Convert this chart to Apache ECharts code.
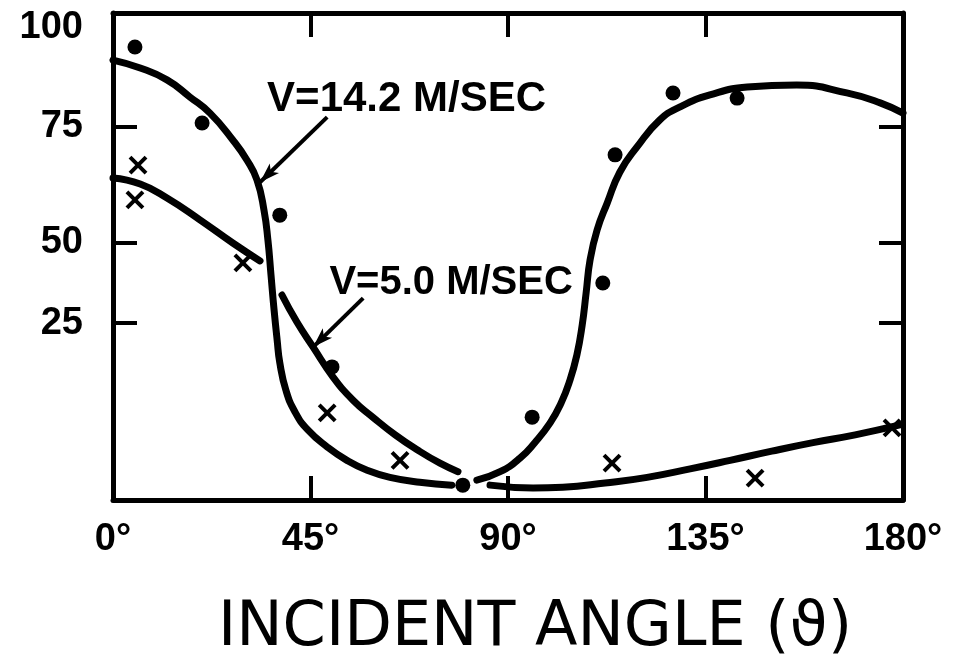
<!DOCTYPE html>
<html>
<head>
<meta charset="utf-8">
<title>Incident angle</title>
<script src="https://cdn.jsdelivr.net/npm/echarts@6/dist/echarts.min.js"></script>
<style>
  html, body { margin: 0; padding: 0; background: #fff; }
  #chart { width: 956px; height: 656px; }
</style>
</head>
<body>
<div id="chart"></div>
<script>
// Tick labels
const angleTicks = [0, 45, 90, 135, 180];
const valueTicks = [25, 50, 75, 100];
const valueTickMarks = [25, 50, 75];

// Measured points, V = 14.2 m/s (dots): [angle, value]
const fastPoints = [
  [5.0, 95.2], [20.3, 76.0], [38.0, 56.0], [49.9, 18.8], [79.7, 2.1],
  [95.5, 11.7], [111.6, 37.5], [114.4, 69.0], [127.6, 83.6], [142.2, 82.3]
];
// Measured points, V = 5.0 m/s (crosses)
const slowPoints = [
  [5.7, 66.8], [5.0, 59.3], [29.6, 43.8], [48.8, 12.3], [65.4, 5.6],
  [113.7, 5.2], [146.3, 3.1], [177.5, 10.2]
];

// Fitted curve, V = 14.2 m/s, drawn in two pieces around the minimum
const fastCurveLeft = [
  [0, 91.9], [6.2, 89.9], [12.3, 86.9], [17.5, 82.6], [22.1, 78.5], [27.3, 72.2],
  [30.5, 67.9], [32.8, 63.6], [34.4, 57.1], [35.3, 50.6], [36.0, 40.0], [36.7, 29.1],
  [37.4, 22.6], [38.0, 19.4], [39.4, 15.5], [41.5, 12.4], [44.4, 9.9], [48.8, 7.5],
  [53.3, 5.6], [57.9, 4.2], [63.1, 3.2], [69.9, 2.5], [77.2, 2.1]
];
const fastCurveRight = [
  [82.9, 2.8], [88.2, 4.0], [92.7, 5.9], [96.1, 8.1], [99.6, 10.9], [102.1, 13.7],
  [104.1, 16.9], [105.7, 20.5], [106.9, 24.7], [107.8, 34.4], [108.7, 44.7],
  [110.3, 52.8], [112.6, 58.6], [115.5, 65.3], [119.4, 70.7], [124.6, 76.8],
  [129.2, 80.1], [136.0, 83.1], [144.5, 85.1], [155.8, 85.6], [167.2, 83.6],
  [174.8, 81.1], [180, 78.5]
];

// Fitted curve, V = 5.0 m/s, drawn in three pieces
const slowCurveA = [[0, 64.0], [6.2, 62.7], [12.3, 59.7], [19.8, 55.0], [27.3, 50.0], [33.5, 44.4]];
const slowCurveB = [
  [38.5, 33.75], [41.9, 25.3], [45.6, 21.6], [50.1, 17.4], [54.7, 14.1], [59.2, 11.7],
  [64.3, 9.2], [69.3, 7.1], [74.5, 5.2], [78.6, 4.0]
];
const slowCurveC = [
  [85.9, 2.1], [95.7, 1.7], [102.5, 1.8], [112.1, 2.4], [121.7, 3.2], [131.5, 4.4],
  [140.6, 5.6], [150.1, 6.9], [159.5, 8.1], [169.1, 9.2], [179.3, 10.6]
];

// Curve labels with their pointer arrows: [angle, value]
const fastLabel = { text: 'V=14.2 M/SEC', at: [35.0, 82.0], arrowFrom: [48.8, 77.5], arrowTo: [33.5, 63.1] };
const slowLabel = { text: 'V=5.0 M/SEC', at: [49.2, 37.5], arrowFrom: [57.0, 32.8], arrowTo: [45.6, 21.6] };

// The printed value scale is not linear: each printed value sits at a
// given share of the plot height, and values in between are interpolated.
const scaleValues = [0, 25, 50, 75, 100, 103.8];
const scaleShares = [0, 0.3634, 0.5277, 0.7659, 0.9692, 1];
const AXIS_SPAN = 1000;

function toAxis(v) {
  for (let i = 1; i < scaleValues.length; i++) {
    if (v <= scaleValues[i] || i === scaleValues.length - 1) {
      const t = (v - scaleValues[i - 1]) / (scaleValues[i] - scaleValues[i - 1]);
      return (scaleShares[i - 1] + t * (scaleShares[i] - scaleShares[i - 1])) * AXIS_SPAN;
    }
  }
  return 0;
}
const pt = p => [p[0], toAxis(p[1])];
const valueLabel = pos => {
  const i = valueTicks.findIndex(t => Math.abs(toAxis(t) - pos) < 1e-6);
  return i >= 0 ? String(valueTicks[i]) : '';
};

const INK = '#000';
const numFont = { fontFamily: 'Liberation Sans', fontWeight: 'bold', color: INK };

function curve(data) {
  return {
    type: 'line', data: data.map(pt), smooth: 0.5, showSymbol: false, silent: true,
    lineStyle: { color: INK, width: 7, cap: 'round', join: 'round' }, z: 3
  };
}

function callout(lbl, fontSize) {
  return {
    type: 'line', data: [], silent: true,
    markLine: {
      silent: true, symbol: ['none', 'arrow'], symbolSize: [10, 20],
      itemStyle: { color: INK },
      lineStyle: { color: INK, width: 4, type: 'solid' }, label: { show: false },
      data: [[{ coord: pt(lbl.arrowFrom) }, { coord: pt(lbl.arrowTo) }]]
    },
    markPoint: {
      silent: true, symbol: 'circle', symbolSize: 1, itemStyle: { color: 'transparent' },
      label: { show: true, position: 'right', distance: 0, formatter: lbl.text,
        fontSize: fontSize, ...numFont },
      data: [{ coord: pt(lbl.at) }]
    }
  };
}

const frameLine = { show: true, onZero: false, lineStyle: { color: INK, width: 5 } };
const tickStyle = { color: INK, width: 4 };

const chart = echarts.init(document.getElementById('chart'));
chart.setOption({
  backgroundColor: '#fff',
  animation: false,
  grid: { left: 113, right: 53, top: 13, bottom: 156, outerBoundsMode: 'none', containLabel: false },
  xAxis: [
    {
      type: 'value', min: 0, max: 180, interval: 45, position: 'bottom',
      axisLine: frameLine,
      axisTick: { show: true, inside: true, length: 24, lineStyle: tickStyle,
        customValues: angleTicks.slice(1, -1) },
      axisLabel: { customValues: angleTicks, formatter: v => v + '°', margin: 21, fontSize: 38, ...numFont },
      splitLine: { show: false },
      name: 'INCIDENT ANGLE (ϑ)', nameLocation: 'middle', nameGap: 98,
      nameTextStyle: { fontFamily: 'DejaVu Sans', fontSize: 62, color: INK, padding: [0, 0, 0, 54] }
    },
    {
      type: 'value', min: 0, max: 180, interval: 45, position: 'top',
      axisLine: frameLine,
      axisTick: { show: true, inside: true, length: 24, lineStyle: tickStyle,
        customValues: angleTicks.slice(1, -1) },
      axisLabel: { show: false }, splitLine: { show: false }
    }
  ],
  yAxis: [
    {
      type: 'value', min: 0, max: AXIS_SPAN, position: 'left',
      axisLine: frameLine,
      axisTick: { show: true, inside: true, length: 24, lineStyle: tickStyle,
        customValues: valueTickMarks.map(toAxis) },
      axisLabel: { customValues: valueTicks.map(toAxis), formatter: valueLabel, margin: 30, fontSize: 38, ...numFont },
      splitLine: { show: false }
    },
    {
      type: 'value', min: 0, max: AXIS_SPAN, position: 'right',
      axisLine: frameLine,
      axisTick: { show: true, inside: true, length: 24, lineStyle: tickStyle,
        customValues: valueTickMarks.map(toAxis) },
      axisLabel: { show: false }, splitLine: { show: false }
    }
  ],
  series: [
    curve(fastCurveLeft),
    curve(fastCurveRight),
    curve(slowCurveA),
    curve(slowCurveB),
    curve(slowCurveC),
    {
      type: 'scatter', data: fastPoints.map(pt), symbol: 'circle', symbolSize: 15,
      itemStyle: { color: INK, opacity: 1 }, z: 4
    },
    {
      type: 'scatter', data: slowPoints.map(pt), symbol: 'path://M0 0L10 10M10 0L0 10', symbolSize: 16,
      itemStyle: { color: 'transparent', borderColor: INK, borderWidth: 4, opacity: 1 }, z: 4
    },
    callout(fastLabel, 42),
    callout(slowLabel, 40)
  ]
});
</script>
</body>
</html>
